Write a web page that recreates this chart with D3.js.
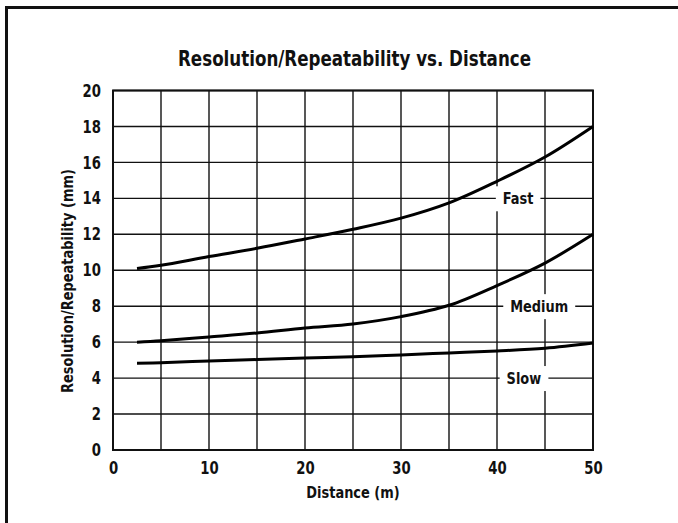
<!DOCTYPE html>
<html><head><meta charset="utf-8">
<script src="https://cdn.jsdelivr.net/npm/d3@7"></script>
<style>
html,body{margin:0;padding:0;background:#fff;}
svg{display:block;}
text{font-family:"Liberation Sans Narrow","DejaVu Sans Condensed","Arial Narrow",sans-serif;font-weight:bold;fill:#111;}
</style></head>
<body>
<svg id="chart" width="678" height="523"></svg>
<script>
const distances = [2.5, 5, 10, 15, 20, 25, 30, 35, 40, 45, 50];
const fastValues = [10.1, 10.28, 10.76, 11.22, 11.74, 12.28, 12.9, 13.75, 14.95, 16.3, 18.0];
const mediumValues = [6.0, 6.08, 6.29, 6.51, 6.79, 7.01, 7.42, 8.05, 9.15, 10.4, 12.0];
const slowValues = [4.82, 4.86, 4.95, 5.03, 5.12, 5.19, 5.29, 5.4, 5.51, 5.66, 5.95];
const seriesNames = ["Fast", "Medium", "Slow"];
const labelPositions = [[42.2, 14], [44.4, 8], [42.8, 4]];
const xTicks = [0, 10, 20, 30, 40, 50];
const yTicks = [0, 2, 4, 6, 8, 10, 12, 14, 16, 18, 20];
const xGrid = [0, 5, 10, 15, 20, 25, 30, 35, 40, 45, 50];
const titleText = "Resolution/Repeatability vs. Distance";
const xLabel = "Distance (m)";
const yLabel = "Resolution/Repeatability (mm)";

(function () {
const svg = d3.select("#chart");
const pL = 113, pR = 593, pT = 90.5, pB = 450;
const x = d3.scaleLinear().domain([0, 50]).range([pL, pR]);
const y = d3.scaleLinear().domain([0, 20]).range([pB, pT]);

function squeeze(sel, f) {
  sel.each(function () {
    const w = this.getComputedTextLength();
    d3.select(this).attr("textLength", w * f).attr("lengthAdjust", "spacingAndGlyphs");
  });
}

// frame
svg.append("rect").attr("x", 6.5).attr("y", 7.5).attr("width", 700).attr("height", 600)
  .attr("fill", "none").attr("stroke", "#111").attr("stroke-width", 3);

// title
svg.append("text").attr("x", 354.5).attr("y", 66).attr("text-anchor", "middle")
  .attr("font-size", 21).attr("textLength", 353).attr("lengthAdjust", "spacingAndGlyphs")
  .text(titleText);

// grid
const g = svg.append("g");
g.selectAll(".vg").data(xGrid).join("line")
  .attr("x1", d => x(d)).attr("x2", d => x(d)).attr("y1", pT).attr("y2", pB)
  .attr("stroke", "#111").attr("stroke-width", 1.4);
g.selectAll(".hg").data(yTicks).join("line")
  .attr("y1", d => y(d)).attr("y2", d => y(d)).attr("x1", pL).attr("x2", pR)
  .attr("stroke", "#111").attr("stroke-width", 1.4);
svg.append("rect").attr("x", pL).attr("y", pT).attr("width", pR - pL).attr("height", pB - pT)
  .attr("fill", "none").attr("stroke", "#111").attr("stroke-width", 2);

// axes (text only)
const xAxis = d3.axisBottom(x).tickValues(xTicks).tickSize(0).tickPadding(12).tickFormat(d3.format("d"));
const xa = svg.append("g").attr("transform", `translate(0,${pB})`).call(xAxis);
xa.select(".domain").remove();
xa.attr("font-family", null).attr("font-size", null);
xa.selectAll("text").attr("font-size", 17.5).attr("fill", "#111");
squeeze(xa.selectAll("text"), 0.84);
const yAxis = d3.axisLeft(y).tickValues(yTicks).tickSize(0).tickPadding(12).tickFormat(d3.format("d"));
const ya = svg.append("g").attr("transform", `translate(${pL},0)`).call(yAxis);
ya.select(".domain").remove();
ya.attr("font-family", null).attr("font-size", null);
ya.selectAll("text").attr("font-size", 17.5).attr("fill", "#111");
squeeze(ya.selectAll("text"), 0.84);

const xl = svg.append("text").attr("x", (pL + pR) / 2).attr("y", 498).attr("text-anchor", "middle")
  .attr("font-size", 15.5).text(xLabel);
squeeze(xl, 0.93);
const yl = svg.append("text").attr("transform", `translate(73,281) rotate(-90)`)
  .attr("text-anchor", "middle").attr("font-size", 15.5).text(yLabel);
squeeze(yl, 0.93);

// curves
const line = d3.line().x(d => x(d[0])).y(d => y(d[1])).curve(d3.curveCatmullRom.alpha(0.5));
[fastValues, mediumValues, slowValues].forEach(vals => {
  svg.append("path").datum(distances.map((d, i) => [d, vals[i]]))
    .attr("d", line).attr("fill", "none").attr("stroke", "#000").attr("stroke-width", 3);
});

// series labels with white background
seriesNames.forEach((name, i) => {
  const [lx, ly] = labelPositions[i];
  const t = svg.append("text").attr("x", x(lx)).attr("y", y(ly)).attr("dy", "0.36em")
    .attr("text-anchor", "middle").attr("font-size", 16.5).text(name);
  squeeze(t, 0.87);
  const bb = t.node().getBBox();
  svg.insert("rect", () => t.node()).attr("x", bb.x - 7).attr("y", bb.y - 3)
    .attr("width", bb.width + 14).attr("height", bb.height + 6).attr("fill", "#fff");
});
})();
</script>
</body></html>
